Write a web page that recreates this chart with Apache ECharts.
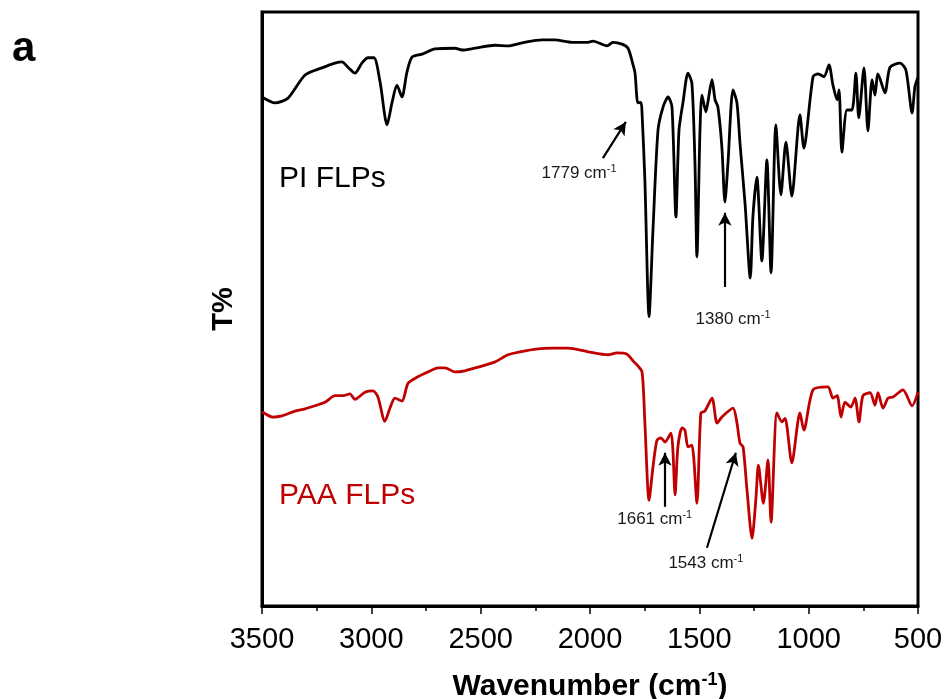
<!DOCTYPE html>
<html>
<head>
<meta charset="utf-8">
<script src="https://cdn.jsdelivr.net/npm/echarts@6/dist/echarts.min.js"></script>
<style>html,body{margin:0;padding:0;background:#fff}#c{width:945px;height:699px}</style>
</head>
<body>
<div id="c"></div>
<script>
// ---- data (wavenumber in cm-1, transmittance in arbitrary offset units) ----
var piWavenumber = [3500,3440,3381,3303,3226,3166,3134,3107,3075,3043,
3015,2988,2960,2928,2905,2883,2860,2837,2814,2768,
2709,2617,2585,2526,2434,2375,2311,2220,2160,2082,
2009,1986,1922,1895,1854,1826,1803,1794,1781,1767,
1762,1749,1730,1712,1689,1666,1643,1625,1607,1593,
1575,1552,1534,1520,1511,1497,1488,1470,1461,1442,
1428,1415,1397,1383,1369,1346,1328,1314,1291,1267,
1255,1237,1214,1191,1172,1150,1127,1104,1077,1040,
1022,980,957,930,907,889,870,861,848,825,
802,784,771,747,729,710,697,683,651,628,
582,555,527,514,500];
var piT = [85.7,84.7,85.5,89.4,90.6,91.4,91.6,90.7,89.7,91.4,
92.3,92.3,88.2,81.0,84.8,87.7,85.7,89.9,92.4,92.9,
93.8,93.9,93.6,93.9,94.4,94.3,94.8,95.3,95.3,94.9,
94.9,95.1,94.3,94.9,94.6,93.9,91.1,89.7,84.7,84.8,
83.0,71.7,48.7,63.3,80.1,84.0,85.7,84.0,65.5,80.1,
84.7,89.7,88.0,74.6,58.8,80.1,86.0,83.2,84.8,88.6,
85.2,84.0,77.3,68.0,74.6,86.9,84.7,77.9,67.8,55.2,
65.5,72.2,58.1,75.1,56.1,81.0,69.2,78.1,69.0,82.7,
77.1,89.1,89.6,89.1,91.1,87.7,85.2,86.9,76.4,83.5,
83.5,89.7,82.2,90.6,80.0,88.6,86.0,89.6,86.4,90.7,
91.4,90.2,83.0,87.4,89.0];

var paaWavenumber = [3500,3450,3409,3349,3303,3212,3166,3130,3098,3075,
3029,2992,2970,2938,2915,2892,2860,2832,2787,2741,
2695,2663,2617,2572,2512,2434,2375,2320,2238,2174,
2101,2009,1918,1877,1831,1799,1785,1762,1749,1730,
1712,1694,1676,1657,1630,1621,1611,1598,1579,1566,
1552,1534,1511,1493,1475,1442,1419,1397,1346,1328,
1314,1300,1282,1259,1241,1230,1207,1186,1172,1145,
1122,1108,1077,1040,1022,980,912,889,870,852,
834,807,788,770,752,719,697,683,660,637,
614,569,527,500];
var paaT = [32.7,31.8,32.0,32.8,33.2,34.3,35.4,35.4,35.7,34.8,
36.0,36.2,35.2,31.1,33.3,35.0,34.5,37.5,38.6,39.4,
40.1,40.1,39.4,39.6,40.2,41.1,42.3,42.8,43.3,43.4,
43.4,42.8,42.3,42.6,42.4,41.1,40.6,39.4,30.8,17.8,
23.4,27.9,28.3,27.6,29.1,26.3,18.7,26.8,30.0,29.6,
26.8,27.1,17.3,32.5,32.8,35.0,30.8,31.8,33.3,30.8,
27.4,26.8,19.5,11.4,18.2,23.7,17.3,24.6,14.1,32.5,
31.0,31.6,24.1,32.5,29.6,36.4,36.9,35.0,35.4,31.8,
34.3,33.5,35.0,31.0,35.4,35.9,33.8,35.9,33.3,35.0,
35.2,36.4,33.7,36.0];

var xTicks = [3500,3000,2500,2000,1500,1000,500];

// annotations: label text, label centre [wn, T], arrow tail [wn,T], arrow head [wn,T]
var annLabels = ['1779','1380','1661','1543'];
var annLabelPos = [[2050,72.9],[1346,48.3],[1704,14.6],[1470,7.2]];
var annTail = [[1941,75.4],[1383,53.7],[1657,16.7],[1465,9.8]];
var annHead = [[1836,81.5],[1383,66.2],[1657,25.8],[1333,25.8]];

var seriesNames = ['PI FLPs','PAA FLPs'];
var seriesNamePos = [[3422,72.0],[3422,18.6]];

function pairs(xs, ys){ return xs.map(function(x,i){ return [x, ys[i]]; }); }

var BLACK = '#000000', RED = '#c00000';
var FONT = 'Liberation Sans';

var chart = echarts.init(document.getElementById('c'), null, {renderer:'canvas'});

var arrowLines = annTail.map(function(t,i){
  return [{coord:t, symbol:'none'},{coord:annHead[i], symbol:'arrow', symbolSize:[10,13]}];
});

var option = {
  backgroundColor:'#fff',
  animation:false,
  title:{ text:'a', left:7, top:23, textStyle:{fontFamily:FONT, fontWeight:'bold', fontSize:42, color:'#000'} },
  grid:{ left:262, right:27, top:12, bottom:93, containLabel:false, outerBoundsMode:'none',
         show:true, borderColor:'#000', borderWidth:3, backgroundColor:'transparent' },
  xAxis:{
    type:'value', inverse:true, min:500, max:3500, interval:500,
    name:'{n|Wavenumber (cm}{s|-1}{n|)}', nameLocation:'middle', nameGap:65,
    nameTextStyle:{ rich:{
      n:{fontFamily:FONT, fontWeight:'bold', fontSize:30, color:'#000'},
      s:{fontFamily:FONT, fontWeight:'bold', fontSize:18, color:'#000', verticalAlign:'top', padding:[0,0,14,0]}
    }},
    axisLine:{show:true, onZero:false, lineStyle:{color:'#000', width:3}},
    axisTick:{show:true, inside:false, length:8, lineStyle:{color:'#000', width:1.5}},
    minorTick:{show:true, splitNumber:2, length:5, lineStyle:{color:'#000', width:1.5}},
    axisLabel:{ margin:19, fontFamily:FONT, fontSize:29, color:'#000',
      formatter:function(v){ return String(v); } },
    splitLine:{show:false}
  },
  yAxis:{
    type:'value', min:0, max:100,
    name:'T%', nameLocation:'middle', nameGap:24, nameRotate:90,
    nameTextStyle:{fontFamily:FONT, fontWeight:'bold', fontSize:29, color:'#000'},
    axisLine:{show:true, lineStyle:{color:'#000', width:3}},
    axisTick:{show:false}, axisLabel:{show:false}, splitLine:{show:false}
  },
  series:[
    { name:seriesNames[0], type:'line', data:pairs(piWavenumber, piT), showSymbol:false, smooth:0.25,
      lineStyle:{color:BLACK, width:2.8}, itemStyle:{color:BLACK}, z:3 },
    { name:seriesNames[1], type:'line', data:pairs(paaWavenumber, paaT), showSymbol:false, smooth:0.25,
      lineStyle:{color:RED, width:2.8}, itemStyle:{color:RED}, z:3 },
    { name:'arrows', type:'line', data:[], markLine:{ silent:true, animation:false,
        lineStyle:{color:'#000', width:2.2, type:'solid'}, label:{show:false},
        data: arrowLines }, z:4 },
    { name:'annotations', type:'scatter', symbolSize:0, z:5, itemStyle:{opacity:1},
      data: annLabels.map(function(l,i){ return {name:l, value:annLabelPos[i]}; }),
      label:{ show:true, position:'inside', formatter:function(p){ return '{a|'+p.name+' cm}{s|-1}'; },
        rich:{ a:{fontFamily:FONT, fontSize:17, color:'#1a1a1a'},
               s:{fontFamily:FONT, fontSize:11, color:'#1a1a1a', verticalAlign:'top', padding:[0,0,8,0]} } } },
    { name:'seriesLabels', type:'scatter', symbolSize:0, z:5, itemStyle:{opacity:1},
      data: seriesNames.map(function(n,i){ return {name:n, value:seriesNamePos[i],
        label:{color: i===0 ? '#000' : RED}}; }),
      label:{ show:true, position:'inside', align:'left', formatter:'{b}', fontFamily:FONT, fontSize:30 } }
  ]
};
chart.setOption(option);
</script>
</body>
</html>
